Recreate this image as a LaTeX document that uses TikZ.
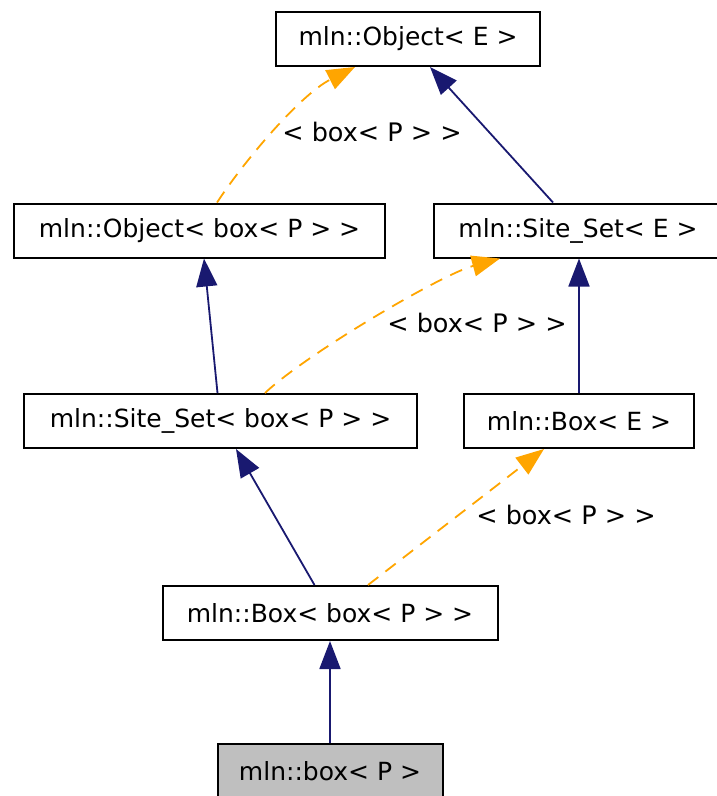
\documentclass[tikz,border=0pt]{standalone}
\usepackage{fontspec}
\setmainfont{DejaVu Sans}
\usetikzlibrary{arrows.meta}
\definecolor{edgeblue}{RGB}{25,25,112}
\definecolor{edgeorange}{RGB}{255,165,0}
\definecolor{nodegray}{RGB}{191,191,191}
\tikzset{
  cls/.style={draw=black, line width=2pt, fill=white, inner sep=0pt, rectangle,
    font=\fontsize{25}{29}\selectfont, minimum height=54pt},
  inherit/.style={draw=edgeblue, line width=1.8pt, -{Triangle[length=28pt,width=21pt]}},
  tmpl/.style={draw=edgeorange, line width=1.8pt, dash pattern=on 13pt off 9pt,
    -{Triangle[length=28pt,width=21pt]}},
  lbl/.style={inner sep=0pt, font=\fontsize{25.5}{29}\selectfont}
}
\begin{document}
\begin{tikzpicture}[x=1pt,y=-1pt]
\useasboundingbox (0,0) rectangle (716,796);
\node[cls, minimum width=264pt] (N1) at (408,39) {mln::Object< E >};
\node[cls, minimum width=371pt] (N2) at (199.5,230.5) {mln::Object< box< P > >};
\node[cls, minimum width=288pt] (N3) at (578,230.5) {mln::Site\_Set< E >};
\node[cls, minimum width=393pt] (N4) at (220.5,421) {mln::Site\_Set< box< P > >};
\node[cls, minimum width=230pt] (N5) at (579,421) {mln::Box< E >};
\node[cls, minimum width=335pt] (N6) at (330,613) {mln::Box< box< P > >};
\node[cls, minimum width=225pt, fill=nodegray] (N7) at (330,771) {mln::box< P >};

\node[lbl] (L1) at (372,132) {< box< P > >};
\node[lbl] (L2) at (477,323) {< box< P > >};
\node[lbl] (L3) at (566,515) {< box< P > >};

% E1: Object<box<P>> -> Object<E> (template)
\draw[tmpl] ([xshift=17.5pt]N2.north) .. controls (245,160) and (300,95) .. ([xshift=-53pt]N1.south);
% E2: Site_Set<E> -> Object<E>
\draw[inherit] ([xshift=-25pt]N3.north) -- ([xshift=22pt]N1.south);
% E3: Site_Set<box<P>> -> Object<box<P>>
\draw[inherit] ([xshift=-3pt]N4.north) -- ([xshift=4.5pt]N2.south);
% E4: Site_Set<box<P>> -> Site_Set<E> (template)
\draw[tmpl] ([xshift=44.5pt]N4.north) .. controls (305,355) and (440,275) .. ([xshift=-78pt]N3.south);
% E5: Box<E> -> Site_Set<E>
\draw[inherit] (N5.north) -- (N3.south -| N5.north);
% E6: Box<box<P>> -> Site_Set<box<P>>
\draw[inherit] ([xshift=-15.5pt]N6.north) -- ([xshift=15.5pt]N4.south);
% E7: Box<box<P>> -> Box<E> (template)
\draw[tmpl] ([xshift=38pt]N6.north) -- ([xshift=-35pt]N5.south);
% E8: box<P> -> Box<box<P>>
\draw[inherit] (N7.north) -- (N6.south);
\end{tikzpicture}
\end{document}
